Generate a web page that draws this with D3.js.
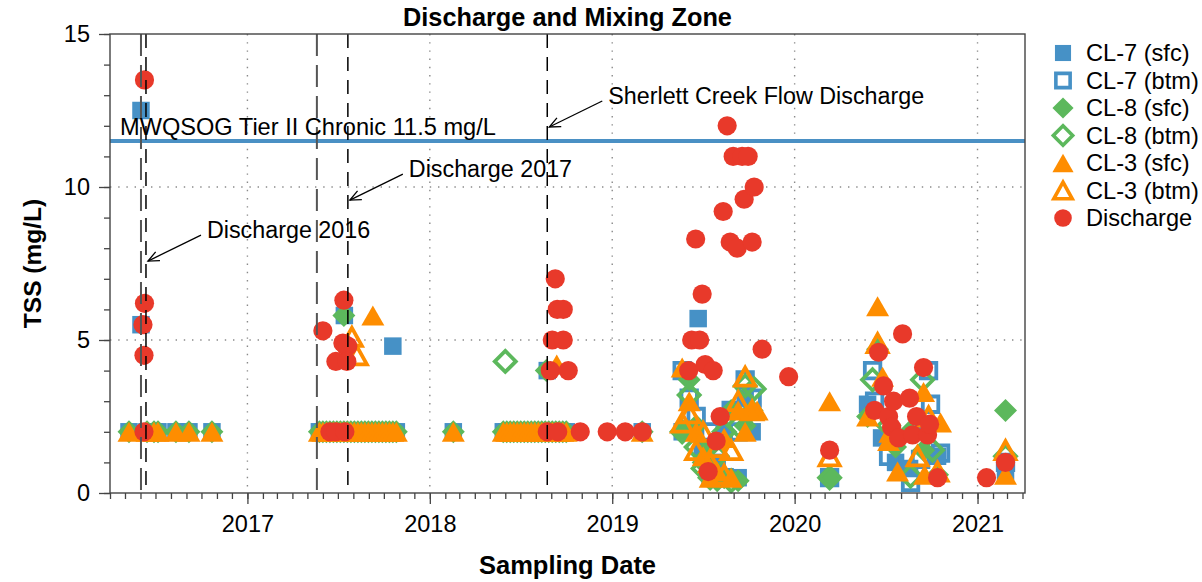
<!DOCTYPE html>
<html>
<head>
<meta charset="utf-8">
<script src="https://cdn.jsdelivr.net/npm/d3@7"></script>
<style>
  body { margin: 0; background: #fff; }
  text { font-family: "Liberation Sans", Arial, Helvetica, sans-serif; }
</style>
</head>
<body>
<div id="chart-area"></div>
<script>
// ---- data ----

// routine sampling rounds where every station came back at the 2 mg/L reporting limit
const routineDates = [
  "2016-05-09", "2016-06-14", "2016-06-28", "2016-07-06", "2016-08-11", "2016-09-06", "2016-10-22",
  "2017-05-25", "2017-06-01", "2017-06-08", "2017-06-15", "2017-06-22", "2017-06-29", "2017-07-06",
  "2017-07-13", "2017-07-20", "2017-07-27", "2017-08-03", "2017-08-10", "2017-08-17", "2017-08-24",
  "2017-08-31", "2017-09-07", "2017-09-14", "2017-09-21", "2017-09-28", "2017-10-05", "2017-10-12",
  "2017-10-19", "2017-10-26",
  "2018-02-17",
  "2018-05-28", "2018-06-04", "2018-06-11", "2018-06-18", "2018-06-25", "2018-07-02", "2018-07-09",
  "2018-07-16", "2018-07-23", "2018-07-30", "2018-08-06", "2018-08-13", "2018-08-20", "2018-08-27",
  "2018-09-03", "2018-09-10", "2018-09-17", "2018-09-24", "2018-10-01",
  "2019-03-02"
]
const routineTSS = 2.0

const cl7Sfc = [
  ["2016-06-02", 12.5], ["2016-06-02", 5.5], ["2017-07-14", 5.8], ["2017-10-19", 4.8], ["2018-08-24", 4.0],
  ["2019-05-21", 2.0], ["2019-06-04", 2.0], ["2019-06-22", 5.7], ["2019-07-02", 1.5], ["2019-07-16", 0.5],
  ["2019-07-30", 1.0], ["2019-08-13", 2.0], ["2019-08-27", 2.7], ["2019-09-10", 0.5], ["2019-09-24", 3.1],
  ["2019-10-08", 2.0],
  ["2020-03-11", 0.5], ["2020-05-26", 2.9], ["2020-06-23", 1.8], ["2020-07-21", 1.0], ["2020-08-18", 0.8],
  ["2020-09-15", 2.2], ["2020-10-13", 1.2], ["2021-02-26", 0.7]
]
const cl7Btm = [
  ["2019-05-21", 4.0], ["2019-06-04", 3.1], ["2019-06-18", 2.5], ["2019-07-02", 1.2], ["2019-07-16", 2.0],
  ["2019-07-30", 1.4], ["2019-08-13", 0.5], ["2019-08-27", 2.7], ["2019-09-10", 2.0], ["2019-09-24", 3.7],
  ["2019-10-08", 3.1],
  ["2020-03-11", 0.5], ["2020-06-05", 4.0], ["2020-06-09", 3.0], ["2020-07-07", 1.2], ["2020-08-20", 0.35],
  ["2020-09-09", 1.1], ["2020-09-25", 4.0], ["2020-09-29", 2.9], ["2020-10-19", 1.3], ["2021-02-26", 1.0]
]
const cl8Sfc = [
  ["2017-07-13", 5.8], ["2018-08-22", 4.0],
  ["2019-05-21", 2.0], ["2019-06-04", 3.7], ["2019-06-18", 2.2], ["2019-07-02", 1.0], ["2019-07-16", 1.5],
  ["2019-07-30", 0.4], ["2019-08-13", 0.5], ["2019-08-27", 2.7], ["2019-09-10", 0.4], ["2019-09-24", 2.2],
  ["2019-10-08", 2.7],
  ["2020-03-11", 0.5], ["2020-05-26", 2.5], ["2020-06-15", 4.7], ["2020-07-21", 1.5], ["2020-08-18", 2.0],
  ["2020-09-15", 1.4], ["2020-10-13", 0.6], ["2021-02-26", 2.7]
]
const cl8Btm = [
  ["2018-06-01", 4.3],
  ["2019-05-21", 2.0], ["2019-06-04", 3.2], ["2019-06-18", 1.5], ["2019-07-02", 0.8], ["2019-07-16", 0.5],
  ["2019-07-30", 1.2], ["2019-08-13", 2.0], ["2019-08-27", 0.4], ["2019-09-10", 2.2], ["2019-09-24", 3.5],
  ["2019-10-12", 3.4],
  ["2020-03-11", 0.5], ["2020-06-05", 3.7], ["2020-07-07", 2.2], ["2020-08-20", 0.55], ["2020-09-13", 3.7],
  ["2020-10-03", 1.4], ["2021-02-26", 1.2]
]
const cl3Sfc = [
  ["2017-09-09", 5.8], ["2018-09-12", 4.2],
  ["2019-05-21", 4.1], ["2019-06-04", 3.0], ["2019-06-18", 2.0], ["2019-07-02", 1.2], ["2019-07-16", 0.5],
  ["2019-07-30", 0.7], ["2019-08-13", 1.8], ["2019-08-27", 0.5], ["2019-09-10", 2.7], ["2019-09-24", 2.0],
  ["2019-10-08", 2.7], ["2019-10-18", 2.7],
  ["2020-03-11", 3.0], ["2020-05-26", 2.5], ["2020-06-15", 6.1], ["2020-06-25", 3.8], ["2020-07-07", 1.7],
  ["2020-07-25", 0.7], ["2020-09-15", 3.3], ["2020-09-17", 0.6], ["2020-10-19", 2.3], ["2021-02-26", 0.6]
]
const cl3Btm = [
  ["2017-07-29", 5.1], ["2017-08-08", 4.5],
  ["2019-05-21", 2.3], ["2019-06-04", 2.6], ["2019-06-18", 1.4], ["2019-07-02", 2.0], ["2019-07-16", 1.0],
  ["2019-07-30", 1.5], ["2019-08-13", 0.6], ["2019-08-27", 1.4], ["2019-09-10", 3.0], ["2019-09-24", 3.8],
  ["2019-10-08", 2.7],
  ["2020-03-11", 1.2], ["2020-06-15", 4.9], ["2020-07-13", 2.0], ["2020-09-03", 1.2], ["2020-09-25", 2.5],
  ["2020-10-13", 0.7], ["2021-02-26", 1.4]
]
const discharge = [
  ["2016-06-09", 13.5], ["2016-06-09", 6.2], ["2016-06-06", 5.5], ["2016-06-08", 4.5], ["2016-06-08", 2.0],
  ["2017-06-01", 5.3], ["2017-07-13", 6.3], ["2017-07-11", 4.9], ["2017-07-17", 4.8], ["2017-07-21", 4.8],
  ["2017-06-27", 4.3], ["2017-07-19", 4.3], ["2017-06-15", 2.0], ["2017-06-27", 2.0], ["2017-07-15", 2.0],
  ["2018-08-24", 2.0], ["2018-09-14", 2.0], ["2018-10-29", 2.0], ["2018-12-22", 2.0], ["2019-01-27", 2.0],
  ["2019-03-02", 2.0], ["2018-09-09", 7.0], ["2018-09-13", 6.0], ["2018-09-25", 6.0], ["2018-09-03", 5.0],
  ["2018-09-25", 5.0], ["2018-08-30", 4.0], ["2018-10-05", 4.0],
  ["2019-06-17", 8.3], ["2019-06-30", 6.5], ["2019-06-09", 5.0], ["2019-06-25", 5.0], ["2019-06-03", 4.0],
  ["2019-07-06", 4.2], ["2019-07-22", 4.0], ["2019-07-12", 0.7], ["2019-07-28", 1.7], ["2019-08-05", 2.5],
  ["2019-08-11", 9.2], ["2019-08-19", 12.0], ["2019-08-25", 8.2], ["2019-08-31", 11.0], ["2019-09-08", 8.0],
  ["2019-09-18", 11.0], ["2019-09-22", 9.6], ["2019-09-30", 11.0], ["2019-10-08", 8.2], ["2019-10-12", 10.0],
  ["2019-10-28", 4.7], ["2019-12-20", 3.8],
  ["2020-03-11", 1.4], ["2020-06-09", 2.7], ["2020-06-17", 4.6], ["2020-06-27", 3.5], ["2020-07-07", 2.5],
  ["2020-07-13", 2.15], ["2020-07-17", 3.0], ["2020-07-27", 1.8], ["2020-08-04", 5.2], ["2020-08-18", 3.1],
  ["2020-08-24", 1.9], ["2020-09-01", 2.5], ["2020-09-15", 4.1], ["2020-09-23", 1.9], ["2020-09-27", 2.25],
  ["2020-10-13", 0.5], ["2021-01-19", 0.5], ["2021-02-26", 1.0]
]

// discharge periods (start = grey dash, end = black dash)
const periodLines = [
  { date: "2016-06-02", kind: "start" },
  { date: "2016-06-12", kind: "end" },
  { date: "2017-05-20", kind: "start" },
  { date: "2017-07-21", kind: "end" },
  { date: "2018-08-24", kind: "end" }
]
const notes = [
  { label: "Discharge 2016", date: "2016-06-12", value: 7.58 },
  { label: "Discharge 2017", date: "2017-07-21", value: 9.57 },
  { label: "Sherlett Creek Flow Discharge", date: "2018-08-24", value: 11.96 }
]
const guideline = { label: "MWQSOG Tier II Chronic 11.5 mg/L", value: 11.5 }

const yMajor = [0, 5, 10, 15]

// ---- layout ----
const MARGIN = { LEFT: 110, RIGHT: 177, TOP: 34, BOTTOM: 89 }
const WIDTH = 1202 - MARGIN.LEFT - MARGIN.RIGHT
const HEIGHT = 582 - MARGIN.TOP - MARGIN.BOTTOM

const BLUE = "#4691c6", GREEN = "#5cb85c", ORANGE = "#fe8d00", RED = "#e8392a"

const parseTime = d3.timeParse("%Y-%m-%d")

const withRoutine = arr => routineDates.map(d => [d, routineTSS]).concat(arr)

const series = [
  { name: "CL-7 (sfc)", data: withRoutine(cl7Sfc), shape: "square", color: BLUE, open: false },
  { name: "CL-7 (btm)", data: cl7Btm, shape: "square", color: BLUE, open: true },
  { name: "CL-8 (sfc)", data: withRoutine(cl8Sfc), shape: "diamond", color: GREEN, open: false },
  { name: "CL-8 (btm)", data: cl8Btm, shape: "diamond", color: GREEN, open: true },
  { name: "CL-3 (sfc)", data: withRoutine(cl3Sfc), shape: "triangle", color: ORANGE, open: false },
  { name: "CL-3 (btm)", data: cl3Btm, shape: "triangle", color: ORANGE, open: true },
  { name: "Discharge", data: discharge, shape: "circle", color: RED, open: false }
]

function shapePath(shape, open, k = 1) {
  if (shape === "square") {
    const s = (open ? 15.5 : 17.5) * k
    return `M${-s / 2},${-s / 2}h${s}v${s}h${-s}Z`
  }
  if (shape === "diamond") {
    const r = (open ? 10.5 : 11.5) * k
    return `M0,${-r}L${r},0L0,${r}L${-r},0Z`
  }
  if (shape === "triangle") {
    const w = (open ? 10 : 11.5) * k, h = (open ? 9 : 10) * k
    return `M0,${-h}L${w},${h}L${-w},${h}Z`
  }
  const p = d3.path()
  p.arc(0, 0, 9.6 * k, 0, 2 * Math.PI)
  return p.toString()
}

const svg = d3.select("#chart-area").append("svg")
  .attr("width", 1202)
  .attr("height", 582)

const g = svg.append("g")
  .attr("transform", `translate(${MARGIN.LEFT}, ${MARGIN.TOP})`)

// scales
const x = d3.scaleTime()
  .domain([new Date(2016, 3, 1), new Date(2021, 3, 6)])
  .range([0, WIDTH])
const y = d3.scaleLinear().domain([0, 15]).range([HEIGHT, 0])

// dotted grid
const grid = g.append("g").attr("class", "grid")
grid.selectAll(".vgrid")
  .data(x.ticks(d3.timeYear))
  .enter().append("line")
  .attr("x1", d => x(d)).attr("x2", d => x(d))
  .attr("y1", 0).attr("y2", HEIGHT)
grid.selectAll(".hgrid")
  .data([5, 10])
  .enter().append("line")
  .attr("x1", 0).attr("x2", WIDTH)
  .attr("y1", d => y(d)).attr("y2", d => y(d))
grid.selectAll("line")
  .attr("stroke", "#8a8a8a")
  .attr("stroke-width", 1.4)
  .attr("stroke-dasharray", "1.4,6.8")

// axes
const axisStyle = sel => {
  sel.select(".domain").remove()
  sel.selectAll("line").attr("stroke", "#444").attr("stroke-width", 1.3)
  sel.selectAll("text").attr("fill", "#000").style("font-size", "23.5px")
}

g.append("g")
  .attr("transform", `translate(0, ${HEIGHT})`)
  .call(d3.axisBottom(x).ticks(d3.timeMonth).tickSize(6).tickFormat(""))
  .call(axisStyle)
g.append("g")
  .attr("transform", `translate(0, ${HEIGHT})`)
  .call(d3.axisBottom(x).ticks(d3.timeYear).tickSize(11).tickPadding(11).tickFormat(d3.timeFormat("%Y")))
  .call(axisStyle)
g.append("g")
  .call(d3.axisLeft(y).tickValues(d3.range(0, 16)).tickSize(6).tickFormat(""))
  .call(axisStyle)
g.append("g")
  .call(d3.axisLeft(y).tickValues(yMajor).tickSize(11).tickPadding(9))
  .call(axisStyle)

// guideline
g.append("line")
  .attr("x1", 0).attr("x2", WIDTH)
  .attr("y1", y(guideline.value)).attr("y2", y(guideline.value))
  .attr("stroke", "#4a90c4")
  .attr("stroke-width", 4)

// points, in plotting order
series.forEach(s => {
  g.append("g").selectAll("path")
    .data(s.data)
    .enter().append("path")
    .attr("transform", d => `translate(${x(parseTime(d[0]))}, ${y(d[1])})`)
    .attr("d", shapePath(s.shape, s.open))
    .attr("fill", s.open ? "none" : s.color)
    .attr("stroke", s.open ? s.color : "none")
    .attr("stroke-width", s.open ? 3.8 : 0)
})

// discharge period lines
g.selectAll(".period")
  .data(periodLines)
  .enter().append("line")
  .attr("x1", d => x(parseTime(d.date))).attr("x2", d => x(parseTime(d.date)))
  .attr("y1", 0).attr("y2", HEIGHT)
  .attr("stroke", d => d.kind === "start" ? "#555" : "#000")
  .attr("stroke-width", d => d.kind === "start" ? 2 : 1.5)
  .attr("stroke-dasharray", d => d.kind === "start" ? "22,9" : "14,9")

// guideline label
g.append("text")
  .attr("x", 10)
  .attr("y", y(guideline.value) - 6)
  .style("font-size", "23.6px")
  .text(guideline.label)

// annotations with open arrowheads
notes.forEach(n => {
  const tx = x(parseTime(n.date)) + 2, ty = y(n.value)
  const sx = tx + 53, sy = ty - 26
  g.append("line")
    .attr("x1", sx).attr("y1", sy).attr("x2", tx).attr("y2", ty)
    .attr("stroke", "#000").attr("stroke-width", 1.3)
  const ang = Math.atan2(sy - ty, sx - tx)
  const head = [ang - 0.42, ang + 0.42].map(a => [tx + 12 * Math.cos(a), ty + 12 * Math.sin(a)])
  g.append("path")
    .attr("d", `M${head[0][0]},${head[0][1]}L${tx},${ty}L${head[1][0]},${head[1][1]}`)
    .attr("fill", "none").attr("stroke", "#000").attr("stroke-width", 1.3)
  g.append("text")
    .attr("x", tx + 59)
    .attr("y", ty - 31)
    .attr("dy", "0.35em")
    .style("font-size", "23.3px")
    .text(n.label)
})

// frame
g.append("rect")
  .attr("width", WIDTH).attr("height", HEIGHT)
  .attr("fill", "none").attr("stroke", "#444").attr("stroke-width", 1.4)

// titles
svg.append("text")
  .attr("x", MARGIN.LEFT + WIDTH / 2).attr("y", 26)
  .attr("text-anchor", "middle")
  .style("font-size", "25.3px").style("font-weight", "bold")
  .text("Discharge and Mixing Zone")
svg.append("text")
  .attr("x", MARGIN.LEFT + WIDTH / 2).attr("y", 574)
  .attr("text-anchor", "middle")
  .style("font-size", "25.5px").style("font-weight", "bold")
  .text("Sampling Date")
svg.append("text")
  .attr("transform", `translate(41, ${MARGIN.TOP + HEIGHT / 2}) rotate(-90)`)
  .attr("text-anchor", "middle")
  .style("font-size", "24.5px").style("font-weight", "bold")
  .text("TSS (mg/L)")

// legend
const legend = svg.append("g")
  .attr("transform", "translate(1063, 53)")
const rows = legend.selectAll("g")
  .data(series)
  .enter().append("g")
  .attr("transform", (d, i) => `translate(0, ${i * 27.5})`)
rows.append("path")
  .attr("d", d => shapePath(d.shape, d.open, 0.92))
  .attr("fill", d => d.open ? "none" : d.color)
  .attr("stroke", d => d.open ? d.color : "none")
  .attr("stroke-width", d => d.open ? 3.6 : 0)
rows.append("text")
  .attr("x", 23)
  .attr("dy", "0.35em")
  .style("font-size", "23.6px")
  .text(d => d.name)
</script>
</body>
</html>
